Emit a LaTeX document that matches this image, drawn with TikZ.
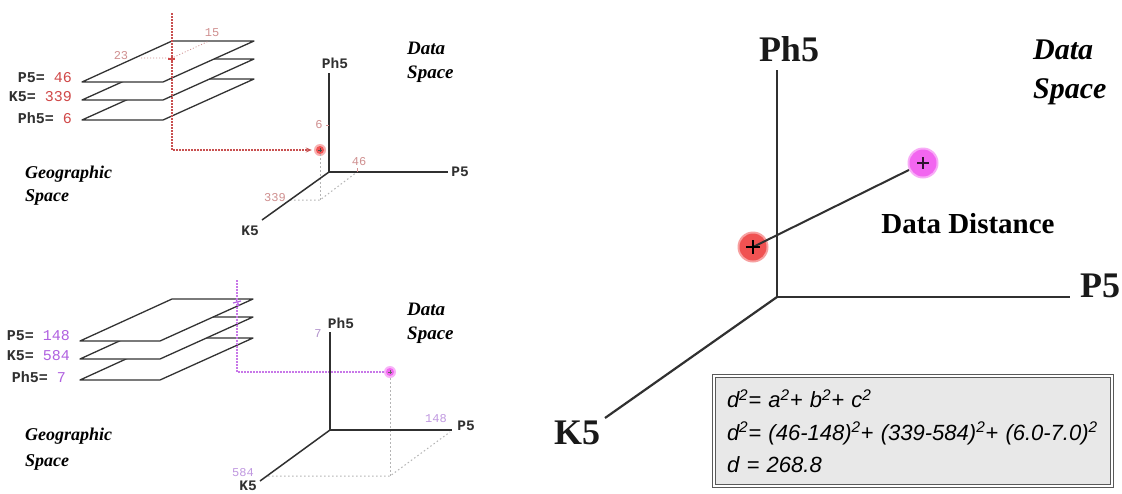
\documentclass[tikz,border=0pt]{standalone}
\usepackage{graphicx}
\usepackage{fontspec}
\setmainfont{Liberation Serif}
\setsansfont{Liberation Sans}
\setmonofont{Liberation Mono}
\usetikzlibrary{arrows.meta}

\definecolor{ptred}{HTML}{F05252}
\definecolor{ptmag}{HTML}{F266F0}
\definecolor{linered}{HTML}{C85050}
\definecolor{valred}{HTML}{D04848}
\definecolor{ticklabred}{HTML}{D09090}
\definecolor{linemag}{HTML}{C878E8}
\definecolor{valmag}{HTML}{B060E0}
\definecolor{ticklabmag}{HTML}{C098E0}
\definecolor{axisgray}{HTML}{303030}
\definecolor{proj}{HTML}{B4B4B4}
\definecolor{boxfill}{HTML}{E8E8E8}

\tikzset{
  axisline/.style={draw=axisgray, line width=1.5pt},
  bigaxisline/.style={draw=axisgray, line width=2.2pt},
  plate/.style={draw=black!80, line width=1.3pt, fill=white, line join=round},
  layerlab/.style={anchor=east, inner sep=0pt, text=axisgray,
    font=\fontsize{15}{18}\selectfont\ttfamily\bfseries},
  axlab/.style={inner sep=0pt, text=axisgray,
    font=\fontsize{14.5}{17}\selectfont\ttfamily\bfseries},
  bigaxlab/.style={inner sep=0pt, text=black!90,
    font=\fontsize{36}{40}\selectfont\bfseries},
  ticklab/.style={inner sep=0pt, font=\fontsize{12}{14}\selectfont\ttfamily},
  spacelab/.style={anchor=north west, align=left, inner sep=0pt,
    font=\fontsize{19}{24}\selectfont\bfseries\itshape},
  projline/.style={draw=proj, line width=1pt, dash pattern=on 1.5pt off 2.5pt},
  redpath/.style={draw=linered, line width=1.1pt, dash pattern=on 1.5pt off 1.5pt},
  magpath/.style={draw=linemag, line width=1.1pt, dash pattern=on 1.5pt off 1.5pt},
  smalldot/.style={circle, inner sep=0pt, minimum size=12pt},
  bigdot/.style={circle, inner sep=0pt, minimum size=31pt},
  eqbox/.style={draw=black!65, double=white, double distance=2pt, line width=0.9pt,
    fill=boxfill, align=left, text width=372pt, inner xsep=13pt,
    minimum height=110pt, font=\fontsize{22}{32.5}\selectfont\sffamily\itshape}
}

\begin{document}
\begin{tikzpicture}[x=1pt, y=-1pt]
\useasboundingbox[fill=white] (0,0) rectangle (1122,493);

% ---------------- upper left: geographic layers ----------------
\draw[plate] (82,120) -- (163,120) -- (254,79) -- (173,79) -- cycle;
\draw[plate] (82,100) -- (163,100) -- (254,59) -- (173,59) -- cycle;
\draw[plate] (82,82) -- (163,82) -- (254,41) -- (172,41) -- cycle;

\node[layerlab] (layP5a) at (72,78) {P5= \textcolor{valred}{\mdseries 46}};
\node[layerlab] (layK5a) at (72,97) {K5= \textcolor{valred}{\mdseries 339}};
\node[layerlab] (layPh5a) at (72,118) {Ph5= \textcolor{valred}{\mdseries 6}};

% sample location on the top layer
\node[ticklab, text=ticklabred] (loc23) at (121,56) {23};
\node[ticklab, text=ticklabred] (loc15) at (212,33) {15};
\coordinate (locA) at (172,58);
\coordinate (locAx) at (141,58);
\coordinate (locAy) at (209,41);
\draw[draw=ticklabred, line width=0.8pt, dash pattern=on 1pt off 2pt] (locAx) -- (locA) -- (locAy);
\draw[draw=valred, line width=1.2pt] (168,59) -- (175,59) (172,57) -- (172,62);

% data point in data space
\node[smalldot, fill=ptred!45] (dotAglow) at (320,150) {};
\node[smalldot, fill=ptred, minimum size=8pt] (dotA) at (320,150) {};
\draw[black!70, line width=0.5pt] (318,150) -- (322,150) (320,148) -- (320,152);

\coordinate (rtop) at (172,13);
\coordinate (rbend) at (172,150);
\draw[redpath, -{Stealth[length=6pt, width=5pt]}, shorten >=2pt] (rtop) -- (rbend) -- (dotAglow.west);

% axes
\coordinate (oA) at (329,172);
\coordinate (phAend) at (329,73);
\coordinate (p5Aend) at (448,172);
\coordinate (k5Aend) at (262,220);
\node[axlab] (phA) at (335,63) {Ph5};
\node[axlab] (p5A) at (460,172) {P5};
\node[axlab] (k5A) at (250,231) {K5};

\coordinate (fA) at (320,200);
\coordinate (k5Atick) at (290,200);
\coordinate (p5Atick) at (357,172);
\draw[projline] (dotA.south) -- (fA);
\draw[projline] (k5Atick) -- (fA) -- (p5Atick);

\draw[axisline] (phAend) -- (oA) -- (p5Aend);
\draw[axisline] (oA) -- (k5Aend);
\draw[draw=ticklabred, line width=0.8pt] (326,125) -- (329,125);
\draw[draw=ticklabred, line width=0.8pt] (357,172) -- (357,168);
\node[ticklab, text=ticklabred] (tickA6) at (319,125) {6};
\node[ticklab, text=ticklabred] (tickA46) at (359,162) {46};
\node[ticklab, text=ticklabred] (tickA339) at (275,198) {339};

\node[spacelab] (dsA) at (407,42) {Data\\Space};
\node[spacelab, font=\fontsize{18}{23}\selectfont\bfseries\itshape] (gsA) at (25,166) {Geographic\\Space};

% ---------------- lower left: geographic layers ----------------
\draw[plate] (80,380) -- (160,380) -- (253,338) -- (172,338) -- cycle;
\draw[plate] (80,359) -- (160,359) -- (253,317) -- (172,317) -- cycle;
\draw[plate] (80,341) -- (160,341) -- (253,299) -- (172,299) -- cycle;

\node[layerlab] (layP5b) at (70,336) {P5= \textcolor{valmag}{\mdseries 148}};
\node[layerlab] (layK5b) at (70,356) {K5= \textcolor{valmag}{\mdseries 584}};
\node[layerlab] (layPh5b) at (66,377) {Ph5= \textcolor{valmag}{\mdseries 7}};

\coordinate (mtop) at (237,280);
\coordinate (mbend) at (237,372);
\draw[draw=valmag, line width=1.2pt] (233,303) -- (241,301) (236,299) -- (239,306);

\node[smalldot, fill=ptmag!50] (dotBglow) at (390,372) {};
\node[smalldot, fill=ptmag, minimum size=8pt] (dotB) at (390,372) {};
\draw[black!60, line width=0.5pt] (388,372) -- (392,372) (390,370) -- (390,374);
\draw[magpath] (mtop) -- (mbend) -- (dotBglow.west);

\coordinate (oB) at (330,430);
\coordinate (phBend) at (330,332);
\coordinate (p5Bend) at (452,430);
\coordinate (k5Bend) at (260,481);
\node[axlab] (phB) at (341,323) {Ph5};
\node[axlab] (p5B) at (466,426) {P5};
\node[axlab] (k5B) at (248,486) {K5};

\coordinate (fB) at (390,476);
\coordinate (k5Btick) at (268,476);
\coordinate (p5Btick) at (450,432);
\draw[projline] (dotBglow.south) -- (fB);
\draw[projline] (k5Btick) -- (fB) -- (p5Btick);

\draw[axisline] (phBend) -- (oB) -- (p5Bend);
\draw[axisline] (oB) -- (k5Bend);
\node[ticklab, text=ticklabmag!80!gray] (tickB7) at (318,334) {7};
\node[ticklab, text=ticklabmag] (tickB148) at (436,419) {148};
\node[ticklab, text=ticklabmag] (tickB584) at (243,473) {584};

\node[spacelab] (dsB) at (407,303) {Data\\Space};
\node[spacelab, font=\fontsize{18}{26}\selectfont\bfseries\itshape] (gsB) at (25,428) {Geographic\\Space};

% ---------------- right: distance in data space ----------------
\coordinate (oC) at (777,297);
\coordinate (phCend) at (777,70);
\coordinate (p5Cend) at (1070,297);
\coordinate (k5Cend) at (605,418);
\draw[bigaxisline] (phCend) -- (oC) -- (p5Cend);
\draw[bigaxisline] (oC) -- (k5Cend);
\node[bigaxlab] (phC) at (789,49) {Ph5};
\node[bigaxlab] (p5C) at (1100,286) {P5};
\node[bigaxlab] (k5C) at (577,433) {K5};

\node[bigdot, fill=ptred!55] (ptCglow) at (753,247) {};
\node[bigdot, fill=ptred, minimum size=27pt] (ptC) at (753,247) {};
\node[bigdot, fill=ptmag!55] (ptDglow) at (923,163) {};
\draw[draw=axisgray, line width=2pt] (ptC.center) -- (ptDglow);
\node[bigdot, fill=ptmag, minimum size=27pt] (ptD) at (923,163) {};
\draw[black, line width=1.4pt] (746,247) -- (760,247) (753,240) -- (753,254);
\draw[black!80!ptmag, line width=1.4pt] (917,163) -- (929,163) (923,157) -- (923,169);

\node[inner sep=0pt, font=\fontsize{29}{34}\selectfont\bfseries] (distlab) at (968,224) {Data Distance};
\node[spacelab, font=\fontsize{30}{39}\selectfont\bfseries\itshape] (dsC) at (1033,40) {Data\\Space};

\node[eqbox] (eq) at (913,431) {d\textsuperscript{2}= a\textsuperscript{2}+ b\textsuperscript{2}+ c\textsuperscript{2}\\
d\textsuperscript{2}= (46-148)\textsuperscript{2}+ (339-584)\textsuperscript{2}+ (6.0-7.0)\textsuperscript{2}\\
d = 268.8};
\end{tikzpicture}
\end{document}
